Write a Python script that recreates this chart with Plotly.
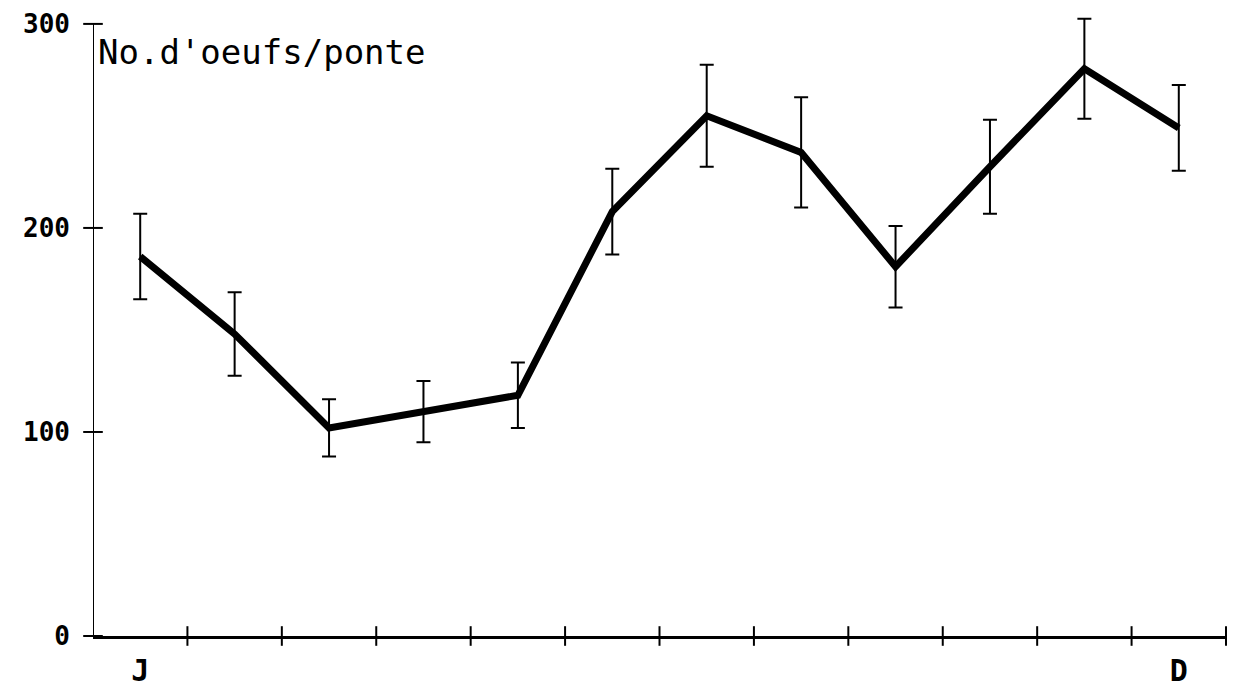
import plotly.graph_objects as go

# Data (monthly mean eggs per clutch, Jan..Dec)
month_labels = ["J", "F", "M", "A", "M", "J", "J", "A", "S", "O", "N", "D"]
eggs = [186, 148, 102, 110, 118, 208, 255, 237, 181, 230, 278, 249]
err = [21, 20.5, 14, 15, 16, 21, 25, 27, 20, 23, 24.5, 21]

y_tick_vals = [0, 100, 200, 300]
x_tick_marks = list(range(1, 13))          # month boundaries
x_label_vals = [0.5, 11.5]                 # month centres labelled
x_label_text = ["J", "D"]

x_pos = [i + 0.5 for i in range(len(month_labels))]

FONT = "DejaVu Sans Mono"

fig = go.Figure()

# main series with error bars
fig.add_trace(go.Scatter(
    x=x_pos, y=eggs, mode="lines",
    line=dict(color="black", width=7),
    error_y=dict(type="data", array=err, visible=True,
                 color="black", thickness=2, width=7),
    showlegend=False, hoverinfo="skip",
))

# crossing tick marks on x axis
fig.add_trace(go.Scatter(
    x=x_tick_marks, y=[0] * len(x_tick_marks), mode="markers",
    marker=dict(symbol="line-ns", size=14, color="black",
                line=dict(color="black", width=2)),
    cliponaxis=False, showlegend=False, hoverinfo="skip",
))

# crossing tick marks on y axis
fig.add_trace(go.Scatter(
    x=[0] * len(y_tick_vals), y=y_tick_vals, mode="markers",
    marker=dict(symbol="line-ew", size=14, color="black",
                line=dict(color="black", width=2)),
    cliponaxis=False, showlegend=False, hoverinfo="skip",
))

# y axis line stopping at the top tick value
fig.add_shape(type="line", xref="x", yref="y",
              x0=0, x1=0, y0=0, y1=y_tick_vals[-1],
              line=dict(color="black", width=2))

fig.add_annotation(
    x=0, y=286, xref="x", yref="y", xanchor="left", yanchor="middle",
    xshift=3, text="No.d'oeufs/ponte", showarrow=False,
    font=dict(family=FONT, size=34, color="black"),
)

fig.update_layout(
    width=1232, height=684,
    margin=dict(l=85, r=14, t=0, b=56),
    paper_bgcolor="white", plot_bgcolor="white",
    font=dict(family=FONT, color="black"),
    xaxis=dict(
        range=[0, 12], showgrid=False, zeroline=False, automargin=False,
        showline=True, linecolor="black", linewidth=3,
        tickmode="array", tickvals=x_label_vals, ticktext=x_label_text,
        ticks="", ticklabelstandoff=6, ticklabeloverflow="allow",
        tickfont=dict(family=FONT, size=30, weight="bold"),
    ),
    yaxis=dict(
        range=[0, 307.8], showgrid=False, zeroline=False, automargin=False,
        showline=False,
        tickmode="array", tickvals=y_tick_vals,
        ticks="", ticklabelstandoff=22, ticklabeloverflow="allow",
        tickfont=dict(family=FONT, size=26, weight="bold"),
    ),
)

fig.write_html("out.html")
